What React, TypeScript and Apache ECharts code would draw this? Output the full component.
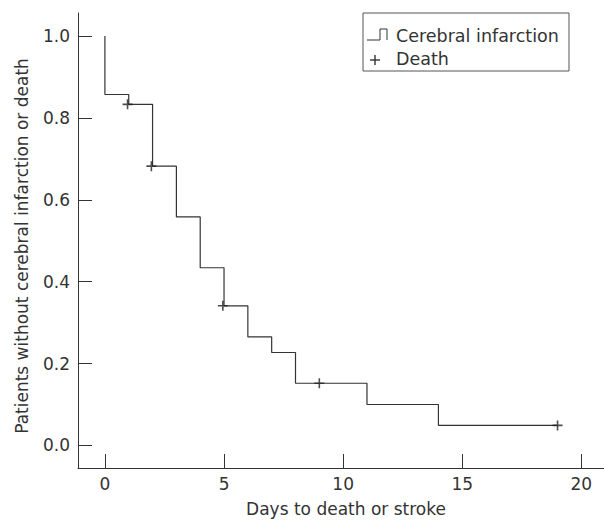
import React, { useEffect, useRef } from "react";
import * as echarts from "echarts";

const eventTimes = [0, 1, 2, 3, 4, 5, 6, 7, 8, 11, 14];
const survivalAfter = [0.857, 0.833, 0.682, 0.558, 0.434, 0.341, 0.265, 0.227, 0.152, 0.1, 0.049];
const startValue = 1.0;
const endTime = 19;
const censorTimes = [0.95, 1.95, 4.95, 9, 19];
const censorValues = [0.833, 0.682, 0.341, 0.152, 0.049];
const xTicks = [0, 5, 10, 15, 20];
const yTicks = [0, 0.2, 0.4, 0.6, 0.8, 1.0];

const FONT = "DejaVu Sans";
const INK = "#333";

export default function App() {
  const ref = useRef<HTMLDivElement>(null);
  useEffect(() => {
    if (!ref.current) return;
    const chart = echarts.init(ref.current, undefined, { renderer: "svg" });

    const stepPts: number[][] = [];
    let prev = startValue;
    eventTimes.forEach((t, i) => {
      stepPts.push([t, prev]);
      stepPts.push([t, survivalAfter[i]]);
      prev = survivalAfter[i];
    });
    stepPts.push([endTime, prev]);

    const censorPts = censorTimes.map((t, i) => [t, censorValues[i]]);

    chart.setOption({
      animation: false,
      grid: { left: 78, right: 0, top: 13, bottom: 53, containLabel: false, outerBoundsMode: "none" },
      xAxis: {
        type: "value",
        min: -1.13,
        max: 20.95,
        name: "Days to death or stroke",
        nameLocation: "middle",
        nameGap: 31,
        nameTextStyle: { fontFamily: FONT, fontSize: 17, color: INK, lineHeight: 20, padding: [0, 0, 0, 10] },
        axisLine: { show: true, onZero: false, lineStyle: { color: INK, width: 1 } },
        axisTick: { show: true, inside: true, length: 14, customValues: xTicks, lineStyle: { color: INK } },
        axisLabel: {
          fontFamily: FONT,
          fontSize: 17,
          color: INK,
          margin: 7,
          customValues: xTicks,
          formatter: (v: number) => String(v),
        },
        splitLine: { show: false },
      },
      yAxis: {
        type: "value",
        min: -0.055,
        max: 1.056,
        name: "Patients without cerebral infarction or death",
        nameLocation: "middle",
        nameGap: 43,
        nameTextStyle: { fontFamily: FONT, fontSize: 17, color: INK, lineHeight: 20, padding: [0, 11, 0, 0] },
        axisLine: { show: true, onZero: false, lineStyle: { color: INK, width: 1 } },
        axisTick: { show: true, inside: true, length: 14, customValues: yTicks, lineStyle: { color: INK } },
        axisLabel: {
          fontFamily: FONT,
          fontSize: 17,
          color: INK,
          margin: 8,
          customValues: yTicks,
          formatter: (v: number) => v.toFixed(1),
        },
        splitLine: { show: false },
      },
      series: [
        {
          type: "line",
          data: stepPts,
          symbol: "none",
          lineStyle: { color: INK, width: 1.2 },
          z: 2,
        },
        {
          type: "scatter",
          data: censorPts,
          symbol: "path://M5,0L5,10M0,5L10,5",
          symbolSize: 10,
          itemStyle: { color: "none", borderColor: "#222", borderWidth: 1.6 },
          z: 3,
        },
      ],
      graphic: [
        {
          type: "rect",
          shape: { x: 363, y: 13, width: 206, height: 58 },
          style: { fill: "#fff", stroke: "#555", lineWidth: 1 },
          z: 10,
        },
        {
          type: "polyline",
          shape: { points: [[367, 40], [380, 40], [380, 29], [387, 29], [387, 40]] },
          style: { fill: "none", stroke: INK, lineWidth: 1 },
          z: 11,
        },
        {
          type: "text",
          x: 396,
          y: 36,
          style: {
            text: "Cerebral infarction",
            fontFamily: FONT,
            fontSize: 17.5,
            lineHeight: 20,
            fill: INK,
            verticalAlign: "middle",
          },
          z: 11,
        },
        {
          type: "line",
          shape: { x1: 370, y1: 60, x2: 380, y2: 60 },
          style: { stroke: INK, lineWidth: 1.4 },
          z: 11,
        },
        {
          type: "line",
          shape: { x1: 375, y1: 55, x2: 375, y2: 65 },
          style: { stroke: INK, lineWidth: 1.4 },
          z: 11,
        },
        {
          type: "text",
          x: 396,
          y: 58.5,
          style: { text: "Death", fontFamily: FONT, fontSize: 17.5, lineHeight: 20, fill: INK, verticalAlign: "middle" },
          z: 11,
        },
      ],
    });
    return () => chart.dispose();
  }, []);
  return <div ref={ref} style={{ position: "absolute", left: 0, top: 0, width: 604, height: 521 }} />;
}
